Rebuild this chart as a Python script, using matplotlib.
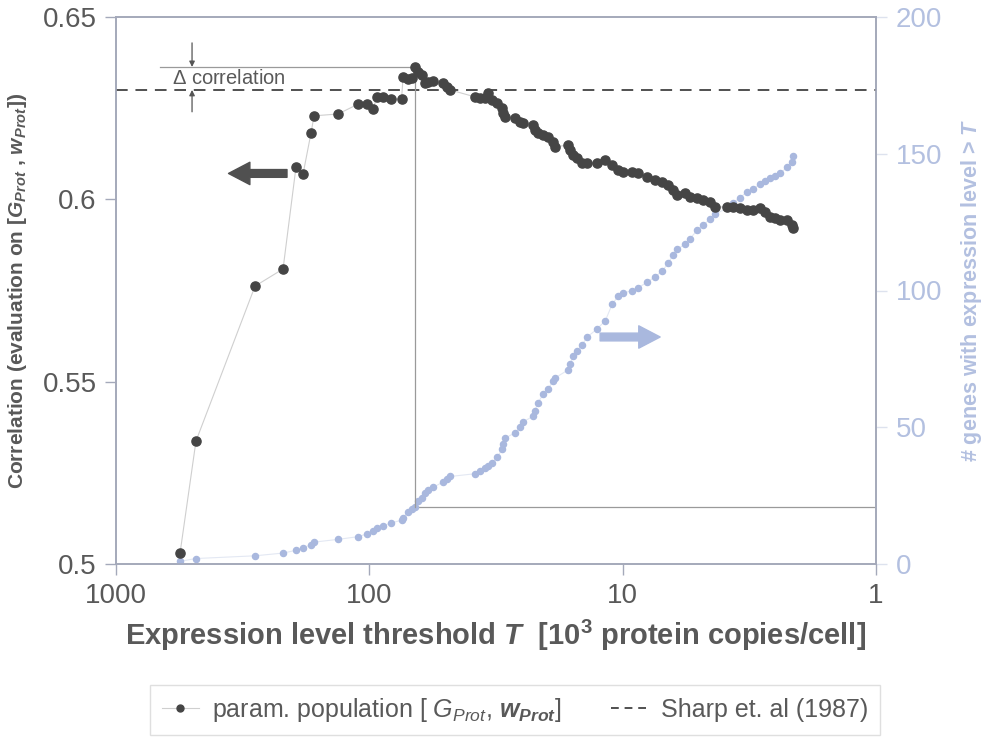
import matplotlib.pyplot as plt
from matplotlib.lines import Line2D
from matplotlib.ticker import FixedLocator, FixedFormatter, NullLocator
import numpy as np

# expression level threshold T [10^3 copies/cell]
T = [558.7, 483.4, 282.6, 219.1, 194.7, 182.7, 169.9, 165.3, 132.9, 110.8,
     102.1, 96.7, 93.2, 88.3, 82.1, 74.6, 73.6, 70.4, 67.8, 66.0,
     64.2, 61.9, 60.3, 58.6, 56.0, 51.2, 49.3, 48.0, 38.3, 36.6,
     34.9, 34.0, 32.8, 31.3, 29.9, 29.7, 29.1, 26.6, 25.4, 24.7,
     22.6, 22.2, 21.6, 20.6, 19.7, 18.8, 18.5, 16.4, 16.1, 15.7,
     15.1, 14.5, 13.8, 12.6, 11.7, 11.0, 10.4, 9.96, 9.18, 8.70,
     8.01, 7.45, 6.99, 6.62, 6.32, 6.10, 5.67, 5.42, 5.08, 4.81,
     4.52, 4.32, 3.87, 3.67, 3.44, 3.23, 3.06, 2.87, 2.74, 2.62,
     2.50, 2.39, 2.24, 2.14, 2.12]

# correlation of the parameterised population
corr = [0.5030, 0.5337, 0.5762, 0.5809, 0.6089, 0.6069, 0.6182, 0.6229, 0.6234, 0.6261,
        0.6261, 0.6248, 0.6281, 0.6281, 0.6275, 0.6275, 0.6335, 0.6330, 0.6333, 0.6363,
        0.6349, 0.6341, 0.6319, 0.6322, 0.6324, 0.6319, 0.6308, 0.6300, 0.6281, 0.6278,
        0.6278, 0.6292, 0.6272, 0.6264, 0.6250, 0.6237, 0.6226, 0.6223, 0.6212, 0.6209,
        0.6204, 0.6190, 0.6182, 0.6176, 0.6171, 0.6157, 0.6144, 0.6149, 0.6135, 0.6122,
        0.6113, 0.6100, 0.6100, 0.6100, 0.6108, 0.6094, 0.6080, 0.6075, 0.6075, 0.6072,
        0.6061, 0.6053, 0.6048, 0.6039, 0.6026, 0.6012, 0.6017, 0.6006, 0.6004, 0.5998,
        0.5993, 0.5979, 0.5979, 0.5979, 0.5976, 0.5971, 0.5971, 0.5976, 0.5965, 0.5952,
        0.5949, 0.5943, 0.5943, 0.5930, 0.5921]

# number of genes with expression level > T
genes = [1, 2, 3, 4, 5, 6, 7, 8, 9, 10,
         11, 12, 13, 14, 15, 16, 17, 19, 20, 21,
         23, 24, 26, 27, 28, 30, 31, 32, 33, 34,
         35, 36, 37, 39, 42, 44, 46, 48, 50, 52,
         54, 56, 59, 62, 64, 67, 68, 71, 73, 76,
         78, 80, 83, 86, 89, 95, 98, 99, 100, 101,
         103, 105, 107, 110, 113, 115, 117, 119, 122, 124,
         126, 128, 130, 132, 134, 136, 137, 139, 140, 141,
         142, 143, 145, 147, 149]

SHARP = 0.63   # Sharp et al. (1987) reference correlation

x_ticks = [1000, 100, 10, 1]
x_labels = ["1000", "100", "10", "1"]
left_ticks = [0.5, 0.55, 0.6, 0.65]
left_labels = ["0.5", "0.55", "0.6", "0.65"]
right_ticks = [0, 50, 100, 150, 200]

DARK = "#454545"
TXT = "#595959"
BLUE = "#a9b8de"
BLUE_TXT = "#b3c0e0"
SPINE = "#a4a9ba"
REF = "#9a9a9a"

plt.rcParams['font.family'] = ['Liberation Sans', 'DejaVu Sans']
plt.rcParams['mathtext.fontset'] = 'custom'
plt.rcParams['mathtext.rm'] = 'Liberation Sans'
plt.rcParams['mathtext.it'] = 'Liberation Sans:italic'
plt.rcParams['mathtext.bf'] = 'Liberation Sans:bold'
plt.rcParams['mathtext.bfit'] = 'Liberation Sans:bold:italic'

fig = plt.figure(figsize=(9.82, 7.40), dpi=100)
ax = fig.add_axes([116/982, 1 - 564/740, 760/982, 547/740])
ax2 = ax.twinx()
ax.set_zorder(ax2.get_zorder() + 1)
ax.patch.set_visible(False)

ax.set_xscale('log')
ax.set_xlim(1000, 1)
ax.set_ylim(0.5, 0.65)
ax2.set_ylim(0, 200)

# optimum threshold
i_best = int(np.argmax(corr))
t_best, c_best, n_best = T[i_best], corr[i_best], genes[i_best]
c_of_n = 0.5 + n_best / 200 * 0.15

# reference lines
ax.axhline(SHARP, color="#505050", lw=1.4, ls=(0, (6, 4)), zorder=2)
ax.plot([670, t_best], [c_best, c_best], color=REF, lw=0.9, zorder=2)
ax.plot([t_best, t_best], [c_best, c_of_n], color=REF, lw=0.9, zorder=2)
ax2.plot([t_best, 1], [n_best, n_best], color=REF, lw=0.9, zorder=2)

# series
ax2.plot(T, genes, color="#e3e8f3", lw=0.8, marker='o', ms=4.4,
         mfc=BLUE, mec=BLUE, zorder=3)
ax.plot(T, corr, color="#cfcfcf", lw=0.8, marker='o', ms=6.6,
        mfc=DARK, mec=DARK, zorder=4)

# delta correlation marker
ax.annotate("", xy=(501, c_best), xytext=(501, 0.6429),
            arrowprops=dict(arrowstyle='-|>', color="#555555", lw=0.9,
                            mutation_scale=8, shrinkA=0, shrinkB=0))
ax.annotate("", xy=(501, SHARP), xytext=(501, 0.6240),
            arrowprops=dict(arrowstyle='-|>', color="#555555", lw=0.9,
                            mutation_scale=8, shrinkA=0, shrinkB=0))
ax.text(600, (c_best + SHARP) / 2 + 0.0001, r"$\Delta$ correlation", fontsize=14.5,
        color=TXT, ha='left', va='center')

# axis arrows
arrow_style = 'simple,head_length=1.1,head_width=1.15,tail_width=0.4'
ax.annotate("", xy=(0.148, 0.714), xytext=(0.225, 0.714), xycoords='axes fraction',
            arrowprops=dict(arrowstyle=arrow_style, color="#505050",
                            shrinkA=0, shrinkB=0, mutation_scale=14))
ax.annotate("", xy=(0.716, 0.415), xytext=(0.637, 0.415), xycoords='axes fraction',
            arrowprops=dict(arrowstyle=arrow_style, color=BLUE,
                            shrinkA=0, shrinkB=0, mutation_scale=14))

# ticks and spines
ax.xaxis.set_major_locator(FixedLocator(x_ticks))
ax.xaxis.set_major_formatter(FixedFormatter(x_labels))
ax.xaxis.set_minor_locator(NullLocator())
ax.yaxis.set_major_locator(FixedLocator(left_ticks))
ax.yaxis.set_major_formatter(FixedFormatter(left_labels))
ax2.yaxis.set_major_locator(FixedLocator(right_ticks))

for a in (ax, ax2):
    for s in a.spines.values():
        s.set_color(SPINE)
        s.set_linewidth(1.2)
ax.tick_params(axis='both', direction='out', length=8, width=1, color=SPINE,
               labelsize=20, labelcolor=TXT, pad=6)
ax2.tick_params(axis='y', direction='out', length=8, width=1, color="#dde2ee",
                labelsize=20, labelcolor=BLUE_TXT, pad=6)

ax.set_xlabel(r"Expression level threshold $\mathbfit{T}$  [$\mathbf{10^{3}}$ protein copies/cell]",
              fontsize=21, fontweight='bold', color=TXT, labelpad=6)
ax.set_ylabel(r"Correlation (evaluation on [$\mathbfit{G}_{\mathbfit{Prot}}$ , $\mathbfit{w}_{\mathbfit{Prot}}$])",
              fontsize=15, fontweight='bold', color=TXT, labelpad=10)
ax2.set_ylabel(r"# genes with expression level > $\mathbfit{T}$",
               fontsize=15.5, fontweight='bold', color=BLUE_TXT, labelpad=12)

# legend under the plot
handles = [Line2D([], [], color="#cfcfcf", lw=0.8, marker='o', ms=5, mfc=DARK, mec=DARK),
           Line2D([], [], color="#505050", lw=1.4, ls=(0, (4, 3)))]
labels = [r"param. population [ $G_{Prot}$, $\mathbfit{w}_{\mathbfit{Prot}}$]",
          "Sharp et. al (1987)"]
leg = fig.legend(handles, labels, loc='center', bbox_to_anchor=(515/982, 1 - 710/740),
                 ncol=2, frameon=True, fancybox=False, edgecolor="#d8d8d8",
                 fontsize=18, handlelength=1.5, handletextpad=0.5, columnspacing=2.0,
                 borderpad=0.45)
for t in leg.get_texts():
    t.set_color(TXT)

fig.savefig("out.png", dpi=100)
